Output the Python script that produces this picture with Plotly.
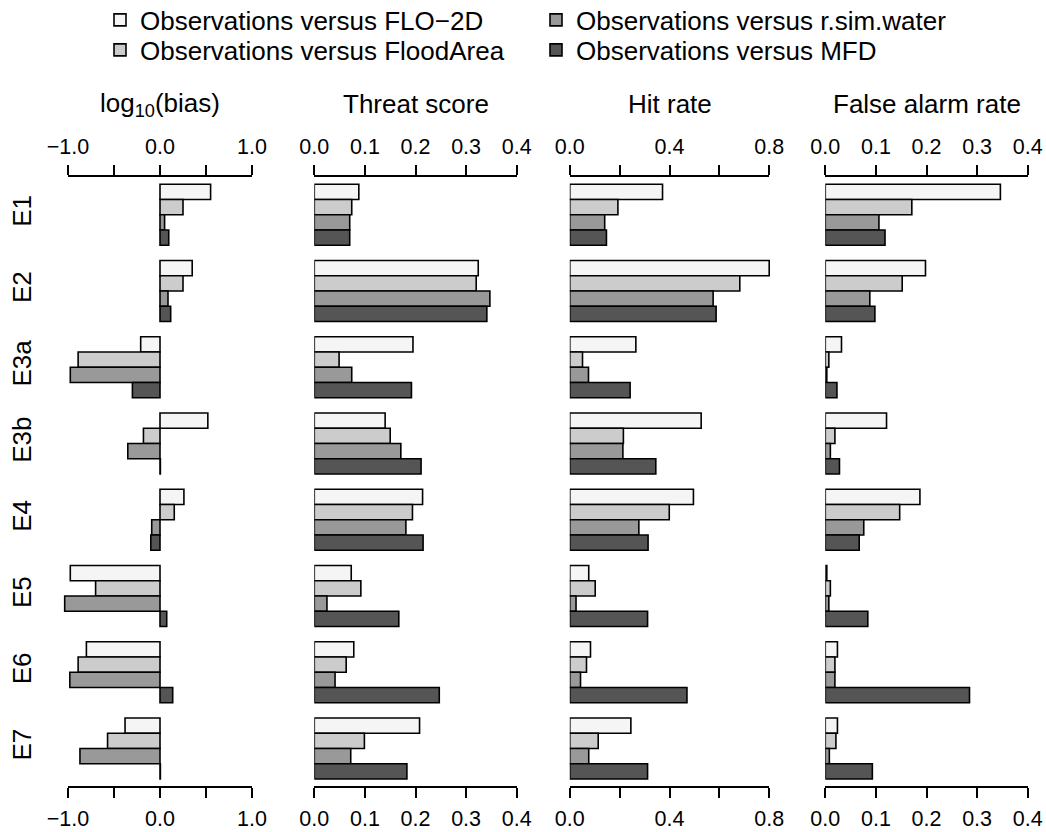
import numpy as np
import plotly.graph_objects as go

# ---- data -------------------------------------------------------------
events = ["E1", "E2", "E3a", "E3b", "E4", "E5", "E6", "E7"]
models = ["FLO\u22122D", "FloodArea", "r.sim.water", "MFD"]
fill_colors = ["#F5F5F5", "#CCCCCC", "#999999", "#555555"]

# log10(bias)
bias_flo2d = [0.55, 0.35, -0.21, 0.52, 0.26, -0.975, -0.80, -0.38]
bias_floodarea = [0.25, 0.25, -0.89, -0.18, 0.155, -0.70, -0.89, -0.57]
bias_rsim = [0.05, 0.087, -0.975, -0.35, -0.09, -1.036, -0.98, -0.87]
bias_mfd = [0.095, 0.116, -0.30, 0.004, -0.10, 0.073, 0.138, 0.004]

# threat score
threat_flo2d = [0.088, 0.324, 0.195, 0.140, 0.214, 0.073, 0.078, 0.208]
threat_floodarea = [0.074, 0.320, 0.049, 0.150, 0.194, 0.092, 0.063, 0.099]
threat_rsim = [0.070, 0.347, 0.074, 0.171, 0.181, 0.025, 0.041, 0.072]
threat_mfd = [0.070, 0.341, 0.192, 0.211, 0.215, 0.167, 0.247, 0.183]

# hit rate
hit_flo2d = [0.372, 0.800, 0.265, 0.527, 0.496, 0.076, 0.083, 0.245]
hit_floodarea = [0.193, 0.682, 0.051, 0.215, 0.399, 0.102, 0.067, 0.114]
hit_rsim = [0.140, 0.575, 0.075, 0.213, 0.277, 0.025, 0.043, 0.076]
hit_mfd = [0.147, 0.587, 0.242, 0.345, 0.314, 0.312, 0.470, 0.312]

# false alarm rate
far_flo2d = [0.346, 0.198, 0.032, 0.121, 0.187, 0.003, 0.024, 0.024]
far_floodarea = [0.171, 0.152, 0.007, 0.019, 0.147, 0.010, 0.019, 0.021]
far_rsim = [0.106, 0.088, 0.003, 0.010, 0.076, 0.007, 0.019, 0.008]
far_mfd = [0.118, 0.098, 0.023, 0.028, 0.067, 0.084, 0.285, 0.093]

# axis ticks
bias_tickvals = [-1.0, -0.5, 0.0, 0.5, 1.0]
bias_ticktext = ["\u22121.0", "", "0.0", "", "1.0"]
score_tickvals = [0.0, 0.1, 0.2, 0.3, 0.4]
score_ticktext = ["0.0", "0.1", "0.2", "0.3", "0.4"]
hit_tickvals = [0.0, 0.2, 0.4, 0.6, 0.8]
hit_ticktext = ["0.0", "", "0.4", "", "0.8"]

# ---- layout geometry (pixels) ----------------------------------------
W, H = 1046, 832
FONT = "Liberation Sans"
TICK_FS = 21.5
LABEL_FS = 26

panels = [
    dict(title="log<sub>10</sub>(bias)",
         series=[bias_flo2d, bias_floodarea, bias_rsim, bias_mfd],
         bar_px=(58.8, 261.2), bar_range=(-1.1, 1.1),
         tick_px=(68.0, 252.0), tick_range=(-1.0, 1.0),
         tickvals=bias_tickvals, ticktext=bias_ticktext),
    dict(title="Threat score",
         series=[threat_flo2d, threat_floodarea, threat_rsim, threat_mfd],
         bar_px=(314.3, 516.7), bar_range=(0.0, 0.4),
         tick_px=(314.3, 516.7), tick_range=(0.0, 0.4),
         tickvals=score_tickvals, ticktext=score_ticktext),
    dict(title="Hit rate",
         series=[hit_flo2d, hit_floodarea, hit_rsim, hit_mfd],
         bar_px=(569.8, 772.2), bar_range=(0.0, 0.812),
         tick_px=(569.8, 769.2), tick_range=(0.0, 0.8),
         tickvals=hit_tickvals, ticktext=hit_ticktext),
    dict(title="False alarm rate",
         series=[far_flo2d, far_floodarea, far_rsim, far_mfd],
         bar_px=(825.3, 1027.7), bar_range=(0.0, 0.4),
         tick_px=(825.3, 1027.7), tick_range=(0.0, 0.4),
         tickvals=score_tickvals, ticktext=score_ticktext),
]

plot_top_px, plot_bot_px = 175.7, 786.7
y_dom = [1 - plot_bot_px / H, 1 - plot_top_px / H]
y_range = [40.5, 0.436]

# bar slots: one empty slot before each group of four bars
n_models = len(models)
group_idx = np.arange(len(events))
group_centres = group_idx * (n_models + 1) + 1 + n_models / 2

# legend entries: (left x px, centre y px)
legend_slots = [(100, 20), (100, 50), (536, 20), (536, 50)]


def px_dom(a, b):
    return [a / W, b / W]


fig = go.Figure()
layout = dict(
    width=W, height=H,
    margin=dict(l=0, r=0, t=0, b=0, autoexpand=False),
    paper_bgcolor="white", plot_bgcolor="rgba(0,0,0,0)",
    font=dict(family=FONT, size=TICK_FS, color="black"),
    barmode="overlay",
    showlegend=True,
    annotations=[],
)

layout["yaxis"] = dict(
    domain=y_dom, range=y_range, anchor="x", automargin=False,
    showgrid=False, zeroline=False, showline=False, ticks="",
    tickmode="array", tickvals=list(group_centres), ticktext=events,
    tickangle=-90, tickfont=dict(family=FONT, size=LABEL_FS, color="black"),
    ticklabelstandoff=22,
)

axis_counter = 1
for p_i, p in enumerate(panels):
    bar_ax = axis_counter
    bot_ax = axis_counter + 1
    top_ax = axis_counter + 2
    axis_counter += 3

    def name(i):
        return "xaxis" if i == 1 else f"xaxis{i}"

    def ref(i):
        return "x" if i == 1 else f"x{i}"

    layout[name(bar_ax)] = dict(
        domain=px_dom(*p["bar_px"]), range=list(p["bar_range"]),
        anchor="y", visible=False, showgrid=False, zeroline=False,
        automargin=False,
    )
    for ax_i, side, pos in ((bot_ax, "bottom", y_dom[0]), (top_ax, "top", y_dom[1])):
        layout[name(ax_i)] = dict(
            domain=px_dom(*p["tick_px"]), range=list(p["tick_range"]),
            anchor="free", position=pos, side=side, automargin=False,
            showgrid=False, zeroline=False,
            showline=True, linecolor="black", linewidth=2,
            ticks="outside", ticklen=10, tickwidth=2, tickcolor="black",
            tickmode="array", tickvals=p["tickvals"], ticktext=p["ticktext"],
            tickfont=dict(family=FONT, size=TICK_FS, color="black"),
            ticklabelstandoff=2,
        )
        # invisible helper trace so the tick axis is registered
        fig.add_trace(go.Scatter(
            x=list(p["tick_range"]), y=[1, 1], xaxis=ref(ax_i), yaxis="y",
            mode="lines", line=dict(width=0), opacity=0,
            showlegend=False, hoverinfo="skip",
        ))

    for m_i, vals in enumerate(p["series"]):
        ypos = group_idx * (n_models + 1) + 1 + m_i + 0.5
        fig.add_trace(go.Bar(
            x=vals, y=ypos, orientation="h", width=1.0,
            xaxis=ref(bar_ax), yaxis="y",
            marker=dict(color=fill_colors[m_i], line=dict(color="black", width=1.6)),
            name=f"Observations versus {models[m_i]}",
            legend="legend" if m_i == 0 else f"legend{m_i + 1}",
            showlegend=(p_i == 0),
        ))

    cx = (p["tick_px"][0] + p["tick_px"][1]) / 2 / W
    layout["annotations"].append(dict(
        text=p["title"], x=cx, y=1 - 104 / H, xref="paper", yref="paper",
        xanchor="center", yanchor="middle", showarrow=False,
        font=dict(family=FONT, size=LABEL_FS, color="black"),
    ))

for m_i, (lx, ly) in enumerate(legend_slots):
    key = "legend" if m_i == 0 else f"legend{m_i + 1}"
    layout[key] = dict(
        orientation="v", xanchor="left", yanchor="middle",
        x=lx / W, y=1 - ly / H,
        font=dict(family=FONT, size=LABEL_FS, color="black"),
        bgcolor="rgba(0,0,0,0)", borderwidth=0,
        itemwidth=30, tracegroupgap=0,
    )

fig.update_layout(**layout)
fig.write_html("out.html")
